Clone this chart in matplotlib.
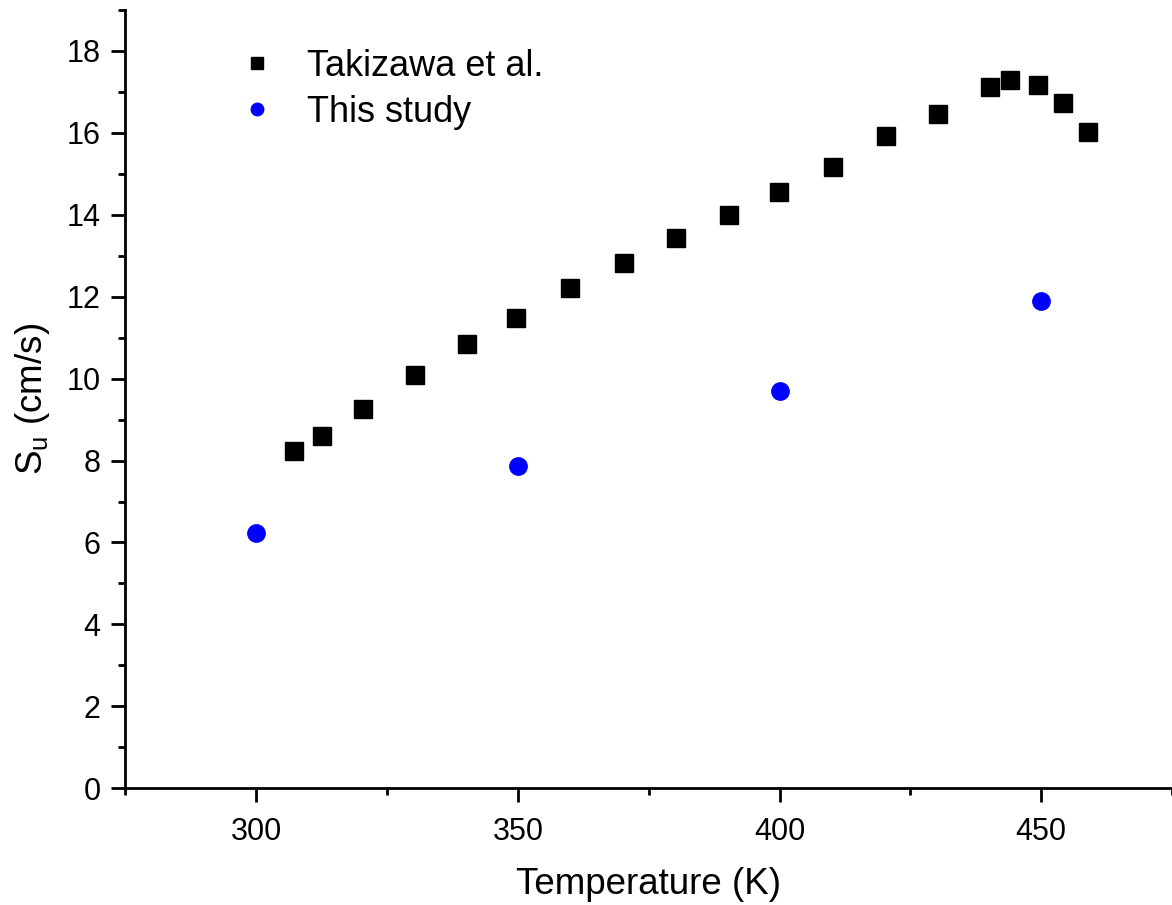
import matplotlib
matplotlib.use("Agg")
import matplotlib.pyplot as plt
from matplotlib.ticker import MultipleLocator

plt.rcParams['font.family'] = ['Liberation Sans', 'DejaVu Sans']
plt.rcParams['mathtext.default'] = 'regular'

# Takizawa et al. burning velocity data
tak_T = [307.2, 312.6, 320.4, 330.3, 340.2, 349.7, 360.0, 370.3, 380.2, 390.3,
         399.9, 410.2, 420.3, 430.2, 440.3, 444.1, 449.4, 454.2, 458.9]
tak_Su = [8.24, 8.61, 9.27, 10.10, 10.85, 11.49, 12.22, 12.83, 13.44, 14.00,
          14.56, 15.17, 15.93, 16.46, 17.12, 17.29, 17.17, 16.73, 16.02]

# present measurements
our_T = [300, 350, 400, 450]
our_Su = [6.23, 7.87, 9.71, 11.90]

fig = plt.figure(figsize=(11.72, 9.05), dpi=100)
ax = fig.add_axes([0.107, 0.129, 0.893, 0.86])

ax.plot(tak_T, tak_Su, 's', color='black', markersize=12.5, label='Takizawa et al.')
ax.plot(our_T, our_Su, 'o', color='blue', markersize=12.5, label='This study')

ax.set_xlim(275, 475)
ax.set_ylim(0, 19)
ax.xaxis.set_major_locator(MultipleLocator(50))
ax.xaxis.set_minor_locator(MultipleLocator(25))
ax.yaxis.set_major_locator(MultipleLocator(2))
ax.yaxis.set_minor_locator(MultipleLocator(1))

for side in ['top', 'right']:
    ax.spines[side].set_visible(False)
for side in ['left', 'bottom']:
    ax.spines[side].set_linewidth(2)

ax.tick_params(which='major', direction='out', length=10, width=2, labelsize=22, pad=8)
ax.tick_params(which='minor', direction='out', length=5, width=2)
ax.tick_params(axis='x', which='major', pad=11)

ax.set_xlabel('Temperature (K)', fontsize=26.5, labelpad=14)
ax.set_ylabel('S$_u$ (cm/s)', fontsize=26.5, labelpad=10)

ax.legend(loc='upper left', bbox_to_anchor=(0.115, 0.95), frameon=False,
          fontsize=26, markerscale=0.72, handletextpad=1.1, labelspacing=0.3,
          handlelength=0.6, borderpad=0, borderaxespad=0)

fig.savefig('out.png', dpi=100)
